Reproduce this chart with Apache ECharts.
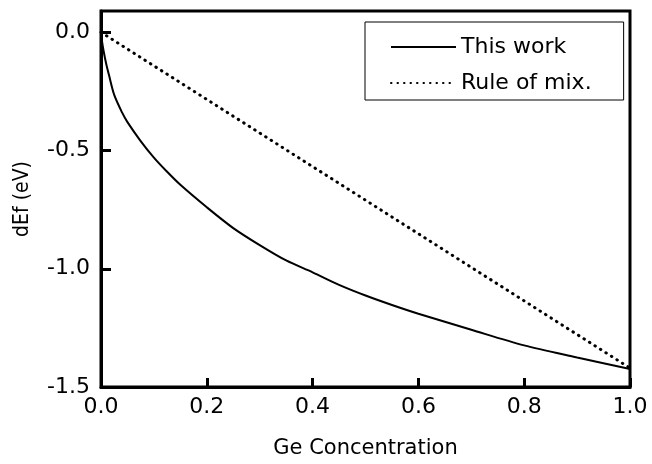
<!DOCTYPE html>
<html>
<head>
<meta charset="utf-8">
<script src="https://cdn.jsdelivr.net/npm/echarts@6/dist/echarts.min.js"></script>
<style>html,body{margin:0;padding:0;background:#fff}#c{width:652px;height:464px}</style>
</head>
<body>
<div id="c"></div>
<script>
var conc = [0, 0.002, 0.005, 0.01, 0.015, 0.025, 0.04, 0.05, 0.075, 0.1, 0.125, 0.15, 0.2, 0.25, 0.3, 0.35, 0.4, 0.45, 0.5, 0.55, 0.6, 0.7, 0.8, 0.9, 1.0];
var thisWork = [0, -0.04, -0.08, -0.135, -0.18, -0.265, -0.34, -0.38, -0.46, -0.53, -0.59, -0.645, -0.74, -0.828, -0.90, -0.965, -1.015, -1.068, -1.113, -1.153, -1.19, -1.258, -1.324, -1.375, -1.424];
var mixConc = [0, 1.0];
var ruleOfMix = [0, -1.42];
var seriesNames = ['This work', 'Rule of mix.'];
var xTitle = 'Ge Concentration';
var yTitle = 'dEf (eV)';

function pairs(xs, ys) { return xs.map(function (x, i) { return [x, ys[i]]; }); }

var FONT = 'DejaVu Sans';
var chart = echarts.init(document.getElementById('c'), null, { renderer: 'canvas' });
chart.setOption({
  animation: false,
  backgroundColor: '#fff',
  textStyle: { fontFamily: FONT, color: '#000' },
  grid: { left: 101, right: 22, top: 11, bottom: 74, show: true, borderColor: '#000', borderWidth: 3, backgroundColor: 'transparent' },
  legend: {
    orient: 'vertical', left: 365, top: 22,
    padding: [14, 32, 6, 25],
    itemGap: 14, itemWidth: 65, itemHeight: 14,
    borderColor: '#000', borderWidth: 1, backgroundColor: '#fff',
    itemStyle: { opacity: 0 },
    textStyle: { fontFamily: FONT, fontSize: 22, color: '#000' },
    data: seriesNames
  },
  xAxis: {
    type: 'value', min: 0, max: 1, interval: 0.2,
    name: xTitle, nameLocation: 'middle', nameGap: 51,
    nameTextStyle: { fontFamily: FONT, fontSize: 21, color: '#000' },
    axisLine: { onZero: false, lineStyle: { color: '#000', width: 3 } },
    axisTick: { inside: true, length: 9, lineStyle: { color: '#000', width: 3 } },
    axisLabel: { fontFamily: FONT, fontSize: 22, color: '#000', margin: 9, formatter: function (v) { return v.toFixed(1); } },
    splitLine: { show: false }
  },
  yAxis: {
    type: 'value', min: -1.5, max: 0.09, interval: 0.5,
    name: yTitle, nameLocation: 'middle', nameGap: 68, nameRotate: 90,
    nameTextStyle: { fontFamily: "'Liberation Sans Narrow', 'DejaVu Sans Condensed', 'DejaVu Sans'", fontSize: 21, color: '#000' },
    axisLine: { onZero: false, lineStyle: { color: '#000', width: 3 } },
    axisTick: { inside: true, length: 10, lineStyle: { color: '#000', width: 3 } },
    axisLabel: { fontFamily: FONT, fontSize: 22, color: '#000', margin: 11, showMaxLabel: false,
      formatter: function (v) { return Math.abs(v * 2 - Math.round(v * 2)) < 1e-6 ? v.toFixed(1) : ''; } },
    splitLine: { show: false }
  },
  series: [
    {
      name: seriesNames[0], type: 'line', data: pairs(conc, thisWork),
      smooth: 0.3, symbol: 'none', showSymbol: false,
      lineStyle: { color: '#000', width: 2 }, itemStyle: { color: '#000' }
    },
    {
      name: seriesNames[1], type: 'line', data: pairs(mixConc, ruleOfMix),
      symbol: 'none', showSymbol: false,
      lineStyle: { color: '#000', width: 3, type: [0.5, 6], cap: 'round' }, itemStyle: { color: '#000' }
    }
  ]
});
</script>
</body>
</html>
